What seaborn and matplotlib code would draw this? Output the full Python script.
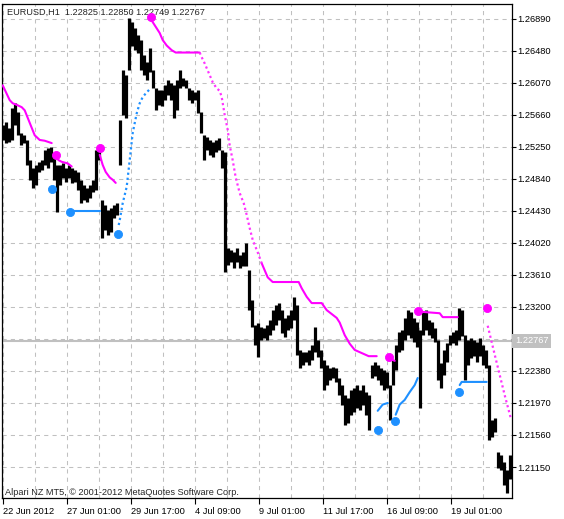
import numpy as np
import matplotlib
matplotlib.use('Agg')
import matplotlib.pyplot as plt
import seaborn as sns

# EURUSD H1 bars, every 3rd hour (high / low)
bar_high = [
    1.2553, 1.2557, 1.2549, 1.2575, 1.2581, 1.2570, 1.2543, 1.2540, 1.2534, 1.2508,
    1.2498, 1.2502, 1.2506, 1.2508, 1.2521, 1.2524, 1.2525, 1.2515, 1.2502, 1.2502,
    1.2504, 1.2498, 1.2502, 1.2498, 1.2495, 1.2493, 1.2483, 1.2476, 1.2472, 1.2476,
    1.2483, 1.2521, 1.2525, 1.2457, 1.2451, 1.2444, 1.2447, 1.2451, 1.2453, 1.2559,
    1.2623, 1.2617, 1.2690, 1.2685, 1.2677, 1.2668, 1.2662, 1.2643, 1.2634, 1.2652,
    1.2623, 1.2600, 1.2598, 1.2598, 1.2604, 1.2611, 1.2607, 1.2604, 1.2611, 1.2623,
    1.2613, 1.2611, 1.2600, 1.2598, 1.2595, 1.2598, 1.2570, 1.2540, 1.2538, 1.2534,
    1.2531, 1.2534, 1.2536, 1.2521, 1.2518, 1.2396, 1.2393, 1.2390, 1.2396, 1.2387,
    1.2390, 1.2402, 1.2367, 1.2329, 1.2297, 1.2300, 1.2294, 1.2293, 1.2297, 1.2303,
    1.2316, 1.2323, 1.2325, 1.2316, 1.2306, 1.2310, 1.2316, 1.2333, 1.2323, 1.2265,
    1.2262, 1.2262, 1.2265, 1.2271, 1.2294, 1.2278, 1.2265, 1.2252, 1.2246, 1.2242,
    1.2243, 1.2242, 1.2229, 1.2220, 1.2207, 1.2204, 1.2214, 1.2216, 1.2220, 1.2214,
    1.2220, 1.2211, 1.2207, 1.2246, 1.2250, 1.2246, 1.2242, 1.2239, 1.2237, 1.2220,
    1.2252, 1.2271, 1.2288, 1.2291, 1.2306, 1.2316, 1.2314, 1.2306, 1.2301, 1.2291,
    1.2314, 1.2316, 1.2303, 1.2301, 1.2293, 1.2278, 1.2248, 1.2265, 1.2274, 1.2284,
    1.2288, 1.2291, 1.2319, 1.2316, 1.2284, 1.2278, 1.2280, 1.2278, 1.2275, 1.2280,
    1.2271, 1.2265, 1.2246, 1.2175, 1.2178, 1.2134, 1.2131, 1.2122, 1.2111, 1.2131,
]
bar_low = [
    1.2534, 1.2530, 1.2531, 1.2534, 1.2553, 1.2540, 1.2527, 1.2530, 1.2502, 1.2483,
    1.2472, 1.2476, 1.2493, 1.2495, 1.2502, 1.2498, 1.2506, 1.2483, 1.2442, 1.2476,
    1.2485, 1.2480, 1.2485, 1.2479, 1.2480, 1.2470, 1.2453, 1.2457, 1.2454, 1.2460,
    1.2467, 1.2470, 1.2508, 1.2408, 1.2419, 1.2412, 1.2416, 1.2434, 1.2438, 1.2502,
    1.2566, 1.2562, 1.2623, 1.2655, 1.2649, 1.2646, 1.2623, 1.2617, 1.2611, 1.2621,
    1.2600, 1.2572, 1.2579, 1.2577, 1.2585, 1.2591, 1.2585, 1.2562, 1.2572, 1.2600,
    1.2603, 1.2600, 1.2585, 1.2581, 1.2585, 1.2568, 1.2543, 1.2508, 1.2521, 1.2515,
    1.2512, 1.2518, 1.2521, 1.2498, 1.2365, 1.2374, 1.2378, 1.2370, 1.2378, 1.2370,
    1.2373, 1.2373, 1.2316, 1.2294, 1.2271, 1.2256, 1.2278, 1.2280, 1.2278, 1.2284,
    1.2291, 1.2297, 1.2303, 1.2287, 1.2282, 1.2291, 1.2293, 1.2303, 1.2259, 1.2242,
    1.2246, 1.2250, 1.2246, 1.2252, 1.2262, 1.2256, 1.2242, 1.2214, 1.2220, 1.2227,
    1.2229, 1.2224, 1.2207, 1.2195, 1.2169, 1.2172, 1.2182, 1.2186, 1.2191, 1.2188,
    1.2195, 1.2182, 1.2163, 1.2229, 1.2232, 1.2227, 1.2220, 1.2214, 1.2216, 1.2175,
    1.2220, 1.2239, 1.2262, 1.2265, 1.2278, 1.2284, 1.2280, 1.2275, 1.2269, 1.2191,
    1.2284, 1.2291, 1.2284, 1.2280, 1.2275, 1.2227, 1.2216, 1.2233, 1.2250, 1.2271,
    1.2274, 1.2271, 1.2278, 1.2283, 1.2227, 1.2246, 1.2255, 1.2257, 1.2250, 1.2257,
    1.2246, 1.2242, 1.2150, 1.2154, 1.2160, 1.2114, 1.2111, 1.2092, 1.2082, 1.2099,
]
bar_x = np.arange(0, 510, 3)

# upper (sell) trailing line, solid pieces
sell_a_x = [0, 7, 10, 14, 19, 22, 27, 32, 37, 42, 49]
sell_a_y = [1.2604, 1.2585, 1.2581, 1.2579, 1.2576, 1.2572, 1.2556, 1.2540, 1.2534, 1.2533, 1.2530]
sell_b_x = [53, 56, 59, 65, 69]
sell_b_y = [1.2512, 1.2508, 1.2506, 1.2504, 1.2500]
sell_c_x = [97, 100, 103, 107, 110, 113]
sell_c_y = [1.2515, 1.2502, 1.2493, 1.2486, 1.2483, 1.2479]
sell_d_x = [149, 152, 157, 160, 164, 169, 173, 197]
sell_d_y = [1.2687, 1.2681, 1.2671, 1.2662, 1.2655, 1.2649, 1.2646, 1.2646]
sell_f_x = [259, 265, 270, 296, 299, 304, 309, 319, 324, 334, 337, 342, 347, 352, 359, 366, 374]
sell_f_y = [1.2376, 1.2358, 1.2352, 1.2352, 1.2344, 1.2333, 1.2325, 1.2325, 1.2316, 1.2306,
            1.2300, 1.2284, 1.2273, 1.2265, 1.2261, 1.2257, 1.2257]
sell_g_x = [387, 392]
sell_g_y = [1.2254, 1.2251]
sell_h_x = [417, 437, 440, 455]
sell_h_y = [1.2314, 1.2312, 1.2307, 1.2307]
# upper line, dotted pieces
sell_e_x = [197, 199, 202, 207, 210, 214, 217, 219, 222, 225, 227, 230, 233, 237, 241, 244, 247, 250, 255, 259]
sell_e_y = [1.2646, 1.2640, 1.2632, 1.2617, 1.2608, 1.2600, 1.2597, 1.2589, 1.2566, 1.2547,
            1.2527, 1.2508, 1.2486, 1.2466, 1.2453, 1.2438, 1.2421, 1.2406, 1.2390, 1.2376]
sell_i_x = [485, 492, 497, 502, 508]
sell_i_y = [1.2296, 1.2259, 1.2233, 1.2207, 1.2178]

# lower (buy) trailing line
buy_a_x = [69, 97]
buy_a_y = [1.2443, 1.2443]
buy_b_x = [116, 117, 120, 124, 127, 130, 134, 137, 140, 144, 147]
buy_b_y = [1.2425, 1.2431, 1.2453, 1.2474, 1.2508, 1.2543, 1.2568, 1.2581, 1.2589, 1.2595, 1.2599]
buy_c_x = [375, 380, 385]
buy_c_y = [1.2187, 1.2195, 1.2197]
buy_d_x = [393, 397, 402, 407, 412, 415]
buy_d_y = [1.2182, 1.2195, 1.2201, 1.2211, 1.2220, 1.2229]
buy_e_x = [457, 459, 484]
buy_e_y = [1.2220, 1.2224, 1.2224]

# signal dots
sell_dot_x = [53, 97, 148, 386, 415, 484]
sell_dot_y = [1.2515, 1.2524, 1.2691, 1.2256, 1.2315, 1.2319]
buy_dot_x = [49, 67, 115, 375, 392, 456]
buy_dot_y = [1.2471, 1.2442, 1.2413, 1.2163, 1.2174, 1.2211]

price_ticks = [1.26890, 1.26480, 1.26070, 1.25660, 1.25250, 1.24840, 1.24430, 1.24020,
               1.23610, 1.23200, 1.22790, 1.22380, 1.21970, 1.21560, 1.21150]
date_ticks = [0, 64, 128, 192, 256, 320, 384, 448]
date_labels = ['22 Jun 2012', '27 Jun 01:00', '29 Jun 17:00', '4 Jul 09:00',
               '9 Jul 01:00', '11 Jul 17:00', '16 Jul 09:00', '19 Jul 01:00']
last_price = 1.22767

sns.set_style('white')
plt.rcParams['font.family'] = ['Liberation Sans', 'DejaVu Sans']

fig = plt.figure(figsize=(5.64, 5.19), dpi=100)
ax = fig.add_axes([2 / 564, 1 - 498.3 / 519, 509.7 / 564, 494 / 519])

ax.set_xlim(-0.7, 509)
ax.set_ylim(1.20749, 1.27078)

# grid
ax.set_xticks(date_ticks)
ax.set_xticklabels(date_labels)
ax.set_xticks([32 + 64 * k for k in range(8)], minor=True)
ax.set_yticks(price_ticks)
ax.set_yticklabels(['' if abs(p - 1.22790) < 1e-6 else f'{p:.5f}' for p in price_ticks])
ax.grid(True, which='both', color='#C0C0C0', linestyle=(0, (4, 4)), linewidth=0.75)
ax.set_axisbelow(True)

ax.axhline(last_price, color='#C0C0C0', linewidth=1.5, zorder=1)

# price bars
ax.vlines(bar_x, bar_low, bar_high, color='black', linewidth=2.3, zorder=3)

magenta = '#FF00FF'
blue = '#1E90FF'
for xs, ys in [(sell_a_x, sell_a_y), (sell_b_x, sell_b_y), (sell_c_x, sell_c_y),
               (sell_d_x, sell_d_y), (sell_f_x, sell_f_y), (sell_g_x, sell_g_y),
               (sell_h_x, sell_h_y)]:
    ax.plot(xs, ys, color=magenta, linewidth=1.5, zorder=4)
for xs, ys in [(sell_e_x, sell_e_y), (sell_i_x, sell_i_y)]:
    ax.plot(xs, ys, color='#FF33FF', linewidth=1.6, linestyle=(0, (1, 1.3)), zorder=4)
for xs, ys in [(buy_a_x, buy_a_y), (buy_c_x, buy_c_y), (buy_d_x, buy_d_y), (buy_e_x, buy_e_y)]:
    ax.plot(xs, ys, color=blue, linewidth=1.5, zorder=4)
ax.plot(buy_b_x, buy_b_y, color=blue, linewidth=1.6, linestyle=(0, (1, 1.3)), zorder=4)

sns.scatterplot(x=sell_dot_x, y=sell_dot_y, color=magenta, s=34, edgecolor=magenta,
                linewidth=0.6, ax=ax, zorder=5)
sns.scatterplot(x=buy_dot_x, y=buy_dot_y, color=blue, s=34, edgecolor=blue,
                linewidth=0.6, ax=ax, zorder=5)

# axes look
for sp in ax.spines.values():
    sp.set_visible(True)
    sp.set_color('black')
    sp.set_linewidth(0.9)
ax.yaxis.tick_right()
ax.tick_params(axis='y', which='major', direction='out', length=3, width=0.8,
               pad=1, labelsize=6.7, colors='black', right=True, left=False)
ax.tick_params(axis='x', which='major', direction='out', length=4, width=0.8,
               pad=2, labelsize=6.7, colors='black', bottom=True)
ax.tick_params(axis='x', which='minor', length=0)
for lbl in ax.get_xticklabels():
    lbl.set_horizontalalignment('left')

ax.text(1.006, last_price, '1.22767', transform=ax.get_yaxis_transform(), color='white',
        fontsize=6.7, va='center', ha='left', clip_on=False,
        bbox=dict(boxstyle='square,pad=0.25', fc='#C0C0C0', ec='none'))
ax.text(0.009, 0.992, 'EURUSD,H1  1.22825 1.22850 1.22749 1.22767', transform=ax.transAxes,
        fontsize=6.6, va='top', ha='left')
ax.text(0.006, 0.007, 'Alpari NZ MT5, \u00a9 2001-2012 MetaQuotes Software Corp.',
        transform=ax.transAxes, fontsize=6.6, va='baseline', ha='left')

fig.savefig('out.png', dpi=100, facecolor='white')
